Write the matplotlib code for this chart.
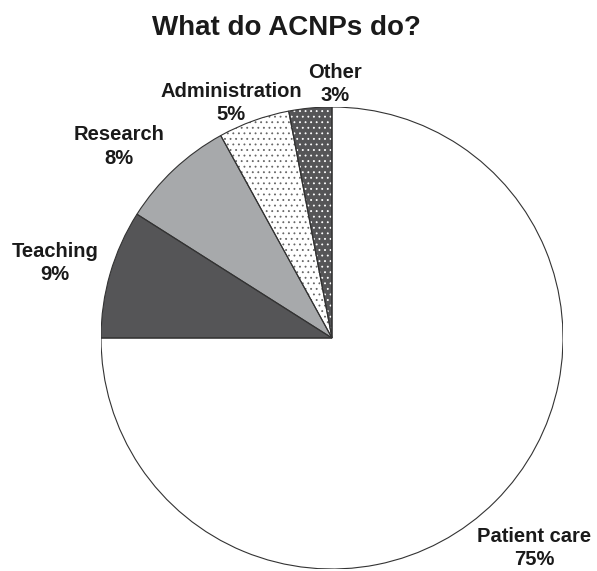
import matplotlib.pyplot as plt
from matplotlib.patches import Wedge

plt.rcParams['font.family'] = ['Liberation Sans', 'DejaVu Sans']
plt.rcParams['hatch.linewidth'] = 0.6

# Share of ACNP work time (%)
activities = ['Patient care', 'Teaching', 'Research', 'Administration', 'Other']
shares = [75, 9, 8, 5, 3]
colors = ['white', '#555557', '#a7a9ab', 'white', '#555557']
hatches = [None, None, None, '...', '...']
hatch_colors = ['black', 'black', 'black', '#666666', 'white']
# label positions in pie radius units
label_pos = [(0.874, -0.909), (-1.199, 0.325), (-0.922, 0.83),
             (-0.437, 1.017), (0.013, 1.10)]

fig = plt.figure(figsize=(5.97, 5.71), dpi=100)
ax = fig.add_axes([101 / 597, 2 / 571, 462 / 597, 462 / 571])

wedges, _ = ax.pie(shares, colors=colors, startangle=90, counterclock=False,
                   radius=1, wedgeprops=dict(linewidth=0))
for w, h, hc in zip(wedges, hatches, hatch_colors):
    if h:
        w.set_hatch(h)
        w.set_edgecolor(hc)
        w.set_linewidth(0)
    # outline on top
    ax.add_patch(Wedge(w.center, w.r, w.theta1, w.theta2, facecolor='none',
                       edgecolor='#333333', linewidth=0.8))

for name, val, (x, y) in zip(activities, shares, label_pos):
    ax.text(x, y, f'{name}\n{val}%', ha='center', va='center', fontsize=14.5,
            fontweight='bold', color='#1a1a1a', linespacing=1.3)

ax.set_xlim(-1, 1)
ax.set_ylim(-1, 1)
ax.set_aspect('equal')
ax.axis('off')

fig.text(286 / 597, 1 - 28 / 571, 'What do ACNPs do?', ha='center', va='center',
         fontsize=20, fontweight='bold', color='#1a1a1a')

fig.savefig('out.png', dpi=100)
